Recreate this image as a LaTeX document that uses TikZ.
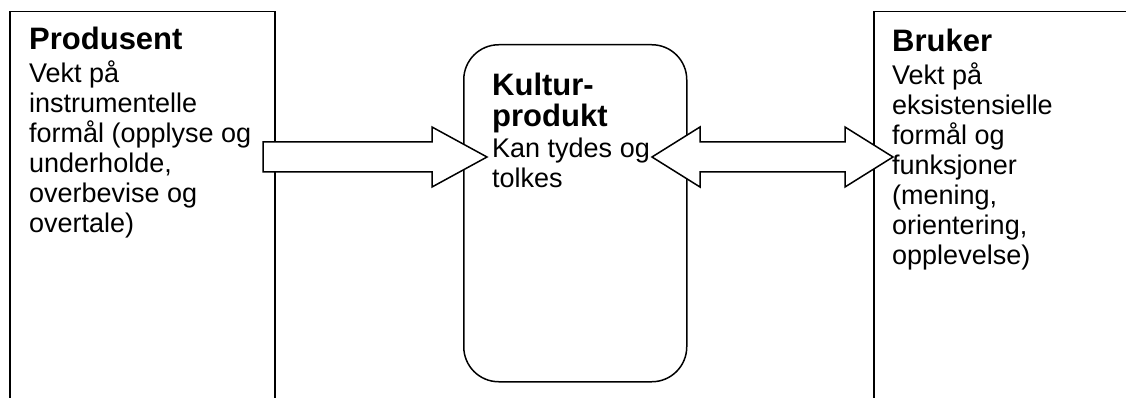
\documentclass[tikz,border=0pt]{standalone}
\usepackage{fontspec}
\setmainfont{Liberation Sans}
\begin{document}
\begin{tikzpicture}[x=1pt,y=-1pt,
  box/.style={draw, line width=1.5pt, fill=white, inner sep=0pt},
  blockarrow/.style={draw, line width=1.5pt, fill=white, line join=miter},
  txt/.style={anchor=north west, inner sep=0pt, align=left, font=\fontsize{27}{30}\selectfont}]
\useasboundingbox (0,0) rectangle (1126,398);
\clip (0,0) rectangle (1126,398);
% boxes
\node[box, anchor=north west, minimum width=265pt, minimum height=420pt] (prod) at (9,11) {};
\node[box, anchor=north west, minimum width=280pt, minimum height=420pt] (bruk) at (873,11) {};
\node[box, rounded corners=35pt, anchor=north west, minimum width=223pt, minimum height=337pt] (kult) at (463,44) {};
% block arrows
\draw[blockarrow] (263,142) -- (432,142) -- (432,127) -- (487,157) -- (432,187) -- (432,172) -- (263,172) -- cycle;
\draw[blockarrow] (652,157) -- (700,127) -- (700,142) -- (845,142) -- (845,127) -- (893,157) -- (845,187) -- (845,172) -- (700,172) -- (700,187) -- cycle;
% texts
\node[txt] (prodtxt) at (29,27) {{\fontsize{31}{31}\selectfont\bfseries Produsent}\\[3pt]
Vekt på\\ instrumentelle\\ formål (opplyse og\\ underholde,\\ overbevise og\\ overtale)};
\node[txt] (kulttxt) at (492,73) {{\fontsize{31}{31}\selectfont\bfseries Kultur-}\\[1pt]
{\fontsize{31}{31}\selectfont\bfseries produkt}\\[1pt]
Kan tydes og\\ tolkes};
\node[txt] (bruktxt) at (892,29) {{\fontsize{31}{31}\selectfont\bfseries Bruker}\\[3pt]
Vekt på\\ eksistensielle\\ formål og\\ funksjoner\\ (mening,\\ orientering,\\ opplevelse)};
\end{tikzpicture}
\end{document}
